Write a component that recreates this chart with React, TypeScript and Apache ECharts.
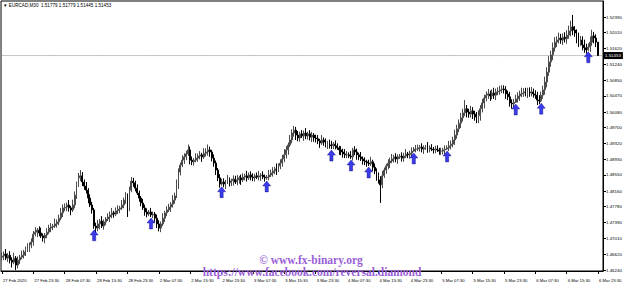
import React, { useEffect, useRef } from "react";
import * as echarts from "echarts";

// ---- data (prices stored as pips above 1.46000) ----
const symbolName = "EURCAD,M30";
const pipBase = 1.46;
const firstOpen = 55;

const closes = [
  58, 63, 53, 60, 48, 43, 53, 36, 48, 55, 60, 68, 73, 77, 85, 92,
  111, 116, 121, 114, 107, 102, 109, 116, 126, 129, 131, 136, 141, 150, 163, 175,
  177, 182, 175, 170, 182, 206, 231, 248, 253, 238, 228, 218, 199, 182, 170, 131,
  126, 136, 143, 131, 141, 148, 153, 158, 163, 160, 168, 172, 175, 182, 194, 204,
  175, 218, 240, 236, 223, 211, 199, 187, 175, 165, 160, 165, 158, 160, 150, 136,
  126, 136, 150, 163, 170, 177, 184, 194, 204, 231, 262, 279, 291, 299, 306, 316,
  291, 287, 291, 296, 301, 304, 299, 308, 311, 316, 311, 296, 284, 267, 248, 233,
  238, 233, 238, 243, 236, 241, 245, 238, 243, 248, 243, 250, 253, 248, 255, 250,
  248, 253, 250, 253, 255, 250, 248, 250, 255, 260, 265, 270, 267, 277, 284, 294,
  304, 316, 328, 340, 357, 364, 352, 345, 355, 350, 357, 350, 355, 347, 352, 345,
  343, 338, 333, 340, 335, 330, 333, 328, 326, 330, 326, 321, 316, 311, 306, 304,
  304, 301, 299, 316, 311, 304, 299, 294, 289, 287, 284, 282, 287, 274, 265, 253,
  243, 231, 253, 267, 277, 284, 289, 294, 299, 294, 299, 301, 296, 301, 306, 304,
  308, 313, 318, 318, 321, 323, 318, 321, 323, 318, 321, 318, 316, 318, 316, 313,
  313, 316, 318, 321, 326, 330, 340, 352, 367, 381, 394, 406, 416, 408, 403, 411,
  403, 396, 389, 399, 416, 430, 442, 449, 452, 447, 454, 449, 457, 459, 462, 464,
  462, 452, 445, 430, 428, 432, 440, 447, 452, 454, 457, 454, 459, 454, 457, 452,
  449, 437, 435, 449, 462, 481, 505, 530, 547, 564, 578, 583, 588, 583, 590, 586,
  595, 605, 615, 607, 600, 588, 578, 583, 571, 564, 559, 566, 578, 593, 588, 577.9,
  545.3,
];

const wickHigh = [
  9, 6, 12, 5, 10, 7, 13, 5, 9, 6, 11, 5, 8, 12, 6, 9,
  8, 12, 5, 9, 13, 6, 5, 10, 8, 9, 5, 13, 6, 9, 12, 8,
  9, 6, 12, 5, 13, 9, 8, 12, 14, 9, 6, 10, 5, 9, 8, 5,
  8, 10, 5, 12, 6, 5, 9, 8, 12, 5, 8, 9, 5, 12, 6, 9,
  6, 9, 10, 8, 5, 9, 6, 5, 10, 8, 9, 5, 10, 6, 5, 9,
  9, 6, 12, 5, 9, 8, 5, 12, 8, 13, 9, 6, 12, 9, 8, 13,
  8, 9, 5, 12, 6, 9, 5, 12, 9, 13, 8, 5, 9, 6, 5, 9,
  8, 9, 5, 12, 6, 5, 9, 8, 12, 5, 8, 9, 5, 12, 6, 9,
  9, 5, 8, 12, 5, 9, 6, 5, 12, 8, 9, 5, 13, 6, 9, 10,
  14, 9, 6, 12, 9, 10, 8, 10, 5, 9, 6, 12, 5, 9, 8, 5,
  8, 9, 5, 12, 6, 9, 5, 8, 10, 5, 9, 6, 5, 9, 8, 12,
  9, 6, 12, 5, 9, 8, 5, 12, 6, 9, 5, 8, 12, 5, 9, 6,
  8, 9, 12, 6, 5, 9, 8, 12, 5, 9, 6, 5, 9, 8, 12, 5,
  6, 9, 5, 10, 8, 5, 9, 6, 5, 12, 6, 9, 5, 8, 9, 5,
  8, 5, 9, 6, 12, 9, 8, 13, 10, 9, 12, 10, 21, 9, 8, 12,
  9, 8, 12, 13, 9, 10, 8, 9, 12, 8, 9, 13, 8, 9, 10, 9,
  9, 9, 8, 12, 9, 8, 10, 9, 8, 13, 9, 10, 8, 9, 12, 8,
  9, 8, 12, 9, 10, 13, 12, 14, 10, 13, 12, 9, 13, 10, 9, 12,
  12, 13, 15, 29, 10, 9, 13, 10, 9, 13, 10, 9, 14, 15, 10, 9,
  0,
];

const wickLow = [
  8, 10, 5, 9, 8, 13, 5, 12, 8, 9, 5, 8, 10, 5, 9, 8,
  9, 5, 12, 8, 5, 9, 13, 8, 5, 10, 8, 5, 9, 8, 5, 10,
  8, 10, 9, 13, 5, 8, 9, 5, 8, 10, 9, 8, 13, 5, 9, 7,
  10, 8, 13, 5, 9, 8, 5, 12, 8, 9, 5, 8, 10, 5, 8, 9,
  22, 8, 5, 10, 8, 5, 9, 8, 5, 9, 8, 5, 5, 8, 9, 10,
  8, 10, 5, 9, 8, 5, 12, 8, 9, 5, 10, 8, 5, 9, 8, 5,
  10, 8, 9, 5, 9, 8, 12, 5, 8, 9, 12, 8, 9, 12, 8, 9,
  4, 8, 12, 5, 9, 8, 12, 5, 8, 9, 12, 5, 8, 9, 5, 8,
  8, 9, 5, 8, 12, 5, 9, 5, 8, 5, 9, 8, 12, 5, 8, 9,
  8, 9, 12, 5, 8, 9, 12, 8, 9, 5, 12, 8, 9, 8, 12, 9,
  9, 8, 12, 5, 9, 8, 12, 9, 8, 8, 9, 5, 12, 8, 9, 8,
  8, 5, 5, 9, 8, 12, 8, 5, 9, 8, 9, 5, 5, 9, 8, 12,
  9, 44, 8, 5, 9, 8, 12, 5, 9, 8, 12, 5, 8, 9, 5, 8,
  9, 8, 2, 8, 5, 9, 8, 12, 5, 9, 8, 5, 9, 8, 5, 9,
  9, 8, 12, 2, 8, 9, 8, 12, 9, 8, 12, 9, 8, 13, 9, 8,
  12, 9, 8, 8, 12, 9, 13, 8, 9, 12, 8, 9, 12, 8, 9, 8,
  9, 12, 8, 9, 12, 8, 2, 9, 12, 8, 9, 8, 12, 9, 8, 9,
  9, 12, 8, 3, 9, 12, 13, 9, 12, 13, 9, 12, 8, 9, 12, 9,
  12, 9, 13, 12, 9, 13, 12, 9, 13, 12, 9, 2, 12, 9, 13, 12,
  0.8,
];

// bars carrying a blue "buy" arrow under the low
const signalBars = [47, 76, 112, 135, 168, 178, 187, 210, 227, 262, 275, 299];

// one time label every 16 bars (8 hours of M30)
const timeLabels = [
  "27 Feb 2020", "27 Feb 23:30", "28 Feb 07:30", "28 Feb 15:30", "28 Feb 23:30",
  "2 Mar 07:30", "2 Mar 15:30", "2 Mar 23:30", "3 Mar 07:30", "3 Mar 15:30",
  "3 Mar 23:30", "4 Mar 07:30", "4 Mar 15:30", "4 Mar 23:30", "5 Mar 07:30",
  "5 Mar 15:30", "5 Mar 23:30", "6 Mar 07:30", "6 Mar 15:30", "6 Mar 23:30",
];
const barsPerLabel = 16;

const priceTicks = [
  1.4624, 1.4662, 1.4701, 1.4739, 1.4778, 1.4816, 1.4855, 1.4893, 1.4932,
  1.497, 1.5008, 1.5047, 1.5085, 1.5124, 1.5162, 1.5201, 1.5239,
];
const priceMin = 1.46216;
const priceMax = 1.52779;
const trailingEmptyBars = 2;

const watermark1 = "\u00A9 www.fx-binary.org";
const watermark2 = "https://www.facebook.com/reversal.diamond";

const smallFont = "Liberation Sans, Arial, sans-serif";

export default function App() {
  const ref = useRef<HTMLDivElement>(null);

  useEffect(() => {
    const el = ref.current;
    if (!el) return;
    const chart = echarts.init(el, null, { renderer: "svg" });

    const toPrice = (p: number) => +(pipBase + p / 10000).toFixed(5);
    const ohlc = closes.map((c, i) => {
      const o = i === 0 ? firstOpen : closes[i - 1];
      const hi = Math.max(o, c) + wickHigh[i];
      const lo = Math.min(o, c) - wickLow[i];
      return [toPrice(o), toPrice(c), toPrice(lo), toPrice(hi)];
    });
    const n = ohlc.length;
    const cats = Array.from({ length: n + trailingEmptyBars }, (_, i) => String(i));
    const last = ohlc[n - 1];
    const fmt = (v: number) => Number(v).toFixed(5);
    const isLabelIdx = (i: number) =>
      i % barsPerLabel === 0 && i / barsPerLabel < timeLabels.length;

    const arrows = signalBars.map((b) => [String(b), ohlc[b][2]]);
    const priceLine = cats.map(() => last[1]);

    chart.setOption({
      animation: false,
      backgroundColor: "#ffffff",
      title: {
        text: `\u25BC ${symbolName}  ${fmt(last[0])} ${fmt(last[3])} ${fmt(last[2])} ${fmt(last[1])}`,
        left: 3,
        top: 3,
        padding: 0,
        textStyle: { fontSize: 4.6, fontWeight: "normal", color: "#000", fontFamily: smallFont },
      },
      grid: {
        left: 1,
        right: 22,
        top: 1,
        bottom: 17,
        show: true,
        borderColor: "#000",
        borderWidth: 1,
        backgroundColor: "#fff",
      },
      xAxis: {
        type: "category",
        data: cats,
        boundaryGap: true,
        axisLine: { show: true, lineStyle: { color: "#000", width: 1 } },
        axisTick: {
          show: true,
          interval: (i: number) => isLabelIdx(i),
          alignWithLabel: true,
          length: 3,
          lineStyle: { color: "#000" },
        },
        axisLabel: {
          interval: (i: number) => isLabelIdx(i),
          formatter: (v: string) => {
            const i = Number(v);
            return isLabelIdx(i) ? timeLabels[i / barsPerLabel] : "";
          },
          fontSize: 4.2,
          color: "#000",
          align: "left",
          margin: 7,
          padding: [0, 0, 0, 1],
          fontFamily: smallFont,
        },
        splitLine: { show: false },
      },
      yAxis: {
        type: "value",
        position: "right",
        min: priceMin,
        max: priceMax,
        axisLine: { show: true, lineStyle: { color: "#000", width: 1 } },
        axisTick: { show: true, customValues: priceTicks, length: 3, lineStyle: { color: "#000" } },
        axisLabel: {
          customValues: priceTicks,
          formatter: (v: number) => fmt(v),
          fontSize: 4.4,
          color: "#000",
          margin: 3,
          fontFamily: smallFont,
        },
        splitLine: { show: false },
      },
      series: [
        {
          type: "line",
          data: priceLine,
          silent: true,
          symbol: "none",
          lineStyle: { color: "#c0c0c0", width: 1, type: "solid" },
          z: 1,
          endLabel: {
            show: true,
            distance: 1,
            formatter: () => fmt(last[1]),
            backgroundColor: "#000",
            color: "#fff",
            fontSize: 4.4,
            padding: [1.5, 2, 1.5, 2],
            fontFamily: smallFont,
          },
        },
        {
          type: "candlestick",
          data: ohlc,
          barWidth: 1.4,
          itemStyle: {
            color: "#ffffff",
            color0: "#000000",
            borderColor: "#4a4a4a",
            borderColor0: "#000000",
            borderWidth: 1,
          },
          z: 2,
        },
        {
          type: "scatter",
          data: arrows,
          symbol: "path://M5,0 L10,5.5 L7,5.5 L7,12 L3,12 L3,5.5 L0,5.5 Z",
          symbolSize: [8, 11],
          symbolOffset: [0, 6.5],
          itemStyle: { color: "#0a0ae6", borderColor: "#000080", borderWidth: 0.5 },
          z: 5,
        },
      ],
      graphic: [
        {
          type: "text",
          x: 311,
          y: 260,
          z: 100,
          style: {
            text: watermark1,
            fill: "#9a5fd6",
            font: 'bold 11.5px "Liberation Serif", "Times New Roman", serif',
            align: "center",
            verticalAlign: "middle",
            textAlign: "center",
            textVerticalAlign: "middle",
          },
        },
        {
          type: "text",
          x: 312,
          y: 271.5,
          z: 100,
          style: {
            text: watermark2,
            fill: "#9a5fd6",
            font: 'bold 11.5px "Liberation Serif", "Times New Roman", serif',
            align: "center",
            verticalAlign: "middle",
            textAlign: "center",
            textVerticalAlign: "middle",
          },
        },
      ],
    });

    return () => chart.dispose();
  }, []);

  return (
    <div
      ref={ref}
      style={{ position: "fixed", left: 0, top: 0, width: 625, height: 288, background: "#fff" }}
    />
  );
}
